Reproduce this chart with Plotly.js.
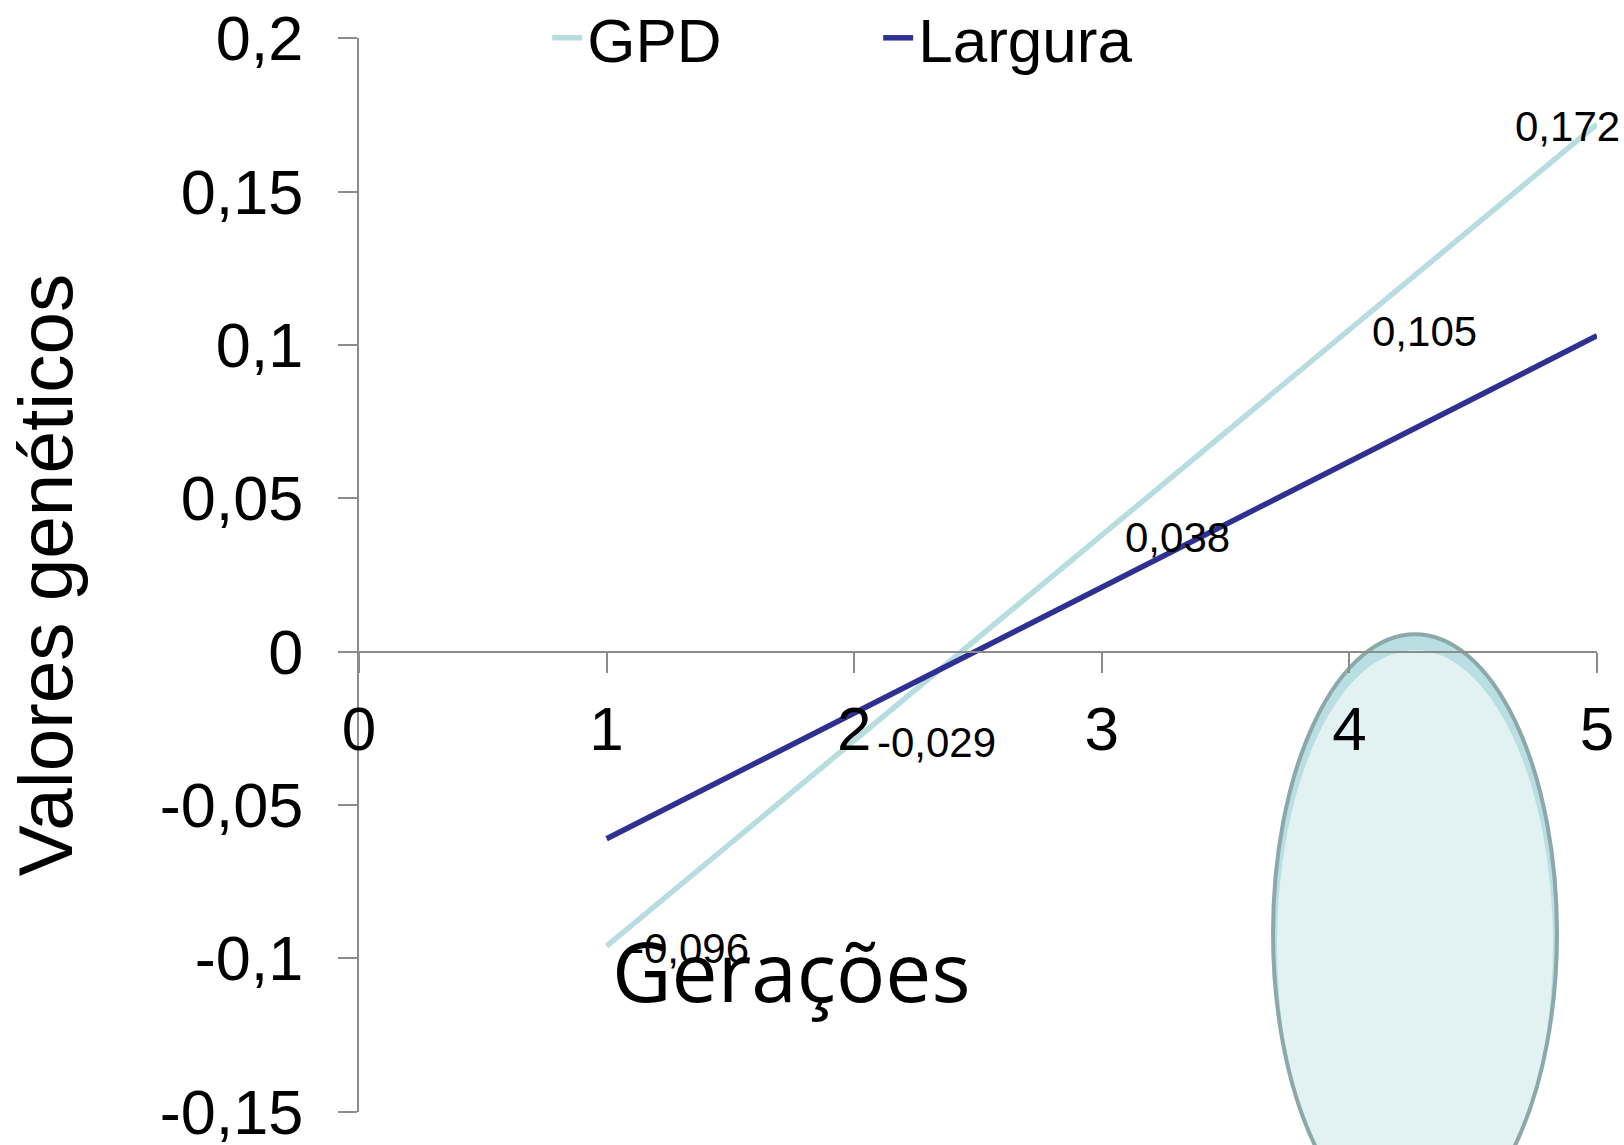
<!DOCTYPE html>
<html>
<head>
<meta charset="utf-8">
<script src="https://cdn.plot.ly/plotly-3.0.1.min.js"></script>
<style>
  html, body { margin: 0; padding: 0; background: #ffffff; }
  #chart { width: 1624px; height: 1145px; }
</style>
</head>
<body>
<div id="chart"></div>
<script>
// ---- data ----
const generations = [1, 2, 3, 4, 5];
const gpdValues = [-0.096, -0.029, 0.038, 0.105, 0.172];
const larguraValues = [-0.061, -0.020, 0.021, 0.062, 0.103];
const seriesNames = ['GPD', 'Largura'];

const xTickVals = [0, 1, 2, 3, 4, 5];
const xTickText = ['0', '1', '2', '3', '4', '5'];
const yTickVals = [-0.15, -0.1, -0.05, 0, 0.05, 0.1, 0.15, 0.2];
const yTickText = ['-0,15', '-0,1', '-0,05', '0', '0,05', '0,1', '0,15', '0,2'];

const xTitle = 'Gerações';
const yTitle = 'Valores genéticos';

// ---- styling ----
const gpdColor = '#b7dde0';
const larguraColor = '#2e3092';
const axisColor = '#8c8c8c';
const armFont = 'Liberation Sans, Arial, sans-serif';

const xRange = [0, 5];
const yRange = [-0.1501, 0.2001];
const zeroFrac = (0 - yRange[0]) / (yRange[1] - yRange[0]);

const traces = [
  {
    x: generations, y: gpdValues, name: seriesNames[0], type: 'scatter', mode: 'lines',
    line: { color: gpdColor, width: 5.5 }, hoverinfo: 'x+y'
  },
  {
    x: generations, y: larguraValues, name: seriesNames[1], type: 'scatter', mode: 'lines',
    line: { color: larguraColor, width: 5.5 }, hoverinfo: 'x+y'
  }
];

const fmt = v => v.toFixed(3).replace('.', ',');
const last = generations.length - 1;
const labelAnnotations = generations.map((g, i) => ({
  x: g, y: gpdValues[i], xref: 'x', yref: 'y',
  text: fmt(gpdValues[i]), showarrow: false,
  xanchor: i === last ? 'right' : 'left', yanchor: 'middle',
  xshift: i === last ? 25 : 21, yshift: -2,
  font: { family: armFont, size: 42, color: '#000000' }
}));

const layout = {
  width: 1624, height: 1145,
  paper_bgcolor: '#ffffff', plot_bgcolor: '#ffffff',
  margin: { l: 359, r: 27, t: 38, b: 33, pad: 0, autoexpand: false },
  showlegend: true,
  legend: {
    orientation: 'h', x: 0.152, xanchor: 'left', y: 1, yanchor: 'middle',
    bgcolor: 'rgba(0,0,0,0)', font: { family: armFont, size: 62, color: '#000000' },
    entrywidth: 286, entrywidthmode: 'pixels', itemwidth: 30
  },
  xaxis: {
    range: xRange, anchor: 'free', position: zeroFrac,
    tickmode: 'array', tickvals: xTickVals, ticktext: xTickText,
    showline: true, linecolor: axisColor, linewidth: 2,
    ticks: 'outside', ticklen: 20, tickwidth: 2, tickcolor: axisColor,
    showgrid: false, zeroline: false,
    tickfont: { family: armFont, size: 62, color: '#000000' },
    ticklabelstandoff: 3, ticklabeloverflow: 'allow'
  },
  yaxis: {
    range: yRange,
    tickmode: 'array', tickvals: yTickVals, ticktext: yTickText,
    showline: true, linecolor: axisColor, linewidth: 2,
    ticks: 'outside', ticklen: 19, tickwidth: 2, tickcolor: axisColor,
    showgrid: false, zeroline: false,
    tickfont: { family: armFont, size: 63, color: '#000000' },
    ticklabelstandoff: 22, ticklabeloverflow: 'allow',
    title: { text: yTitle, standoff: 62, font: { family: armFont, size: 76.5, color: '#000000' } }
  },
  shapes: [
    { type: 'circle', xref: 'paper', yref: 'paper', layer: 'below',
      x0: 0.7383, x1: 0.9677, y0: -0.112, y1: 0.4449,
      fillcolor: '#b9dfe2', line: { width: 0 } },
    { type: 'circle', xref: 'paper', yref: 'paper', layer: 'below',
      x0: 0.7415, x1: 0.9645, y0: -0.118, y1: 0.430,
      fillcolor: '#e2f2f3', line: { width: 0 } },
    { type: 'circle', xref: 'paper', yref: 'paper', layer: 'below',
      x0: 0.7383, x1: 0.9677, y0: -0.112, y1: 0.4449,
      fillcolor: 'rgba(0,0,0,0)', line: { color: '#8ba8ab', width: 4 } }
  ],
  annotations: labelAnnotations.concat([
    { x: 0.349, y: 0.132, xref: 'paper', yref: 'paper', text: xTitle, showarrow: false,
      xanchor: 'center', yanchor: 'middle',
      font: { family: 'Open Sans, sans-serif', size: 82, color: '#000000' } }
  ])
};

Plotly.newPlot('chart', traces, layout, { displayModeBar: false, staticPlot: true });
</script>
</body>
</html>
